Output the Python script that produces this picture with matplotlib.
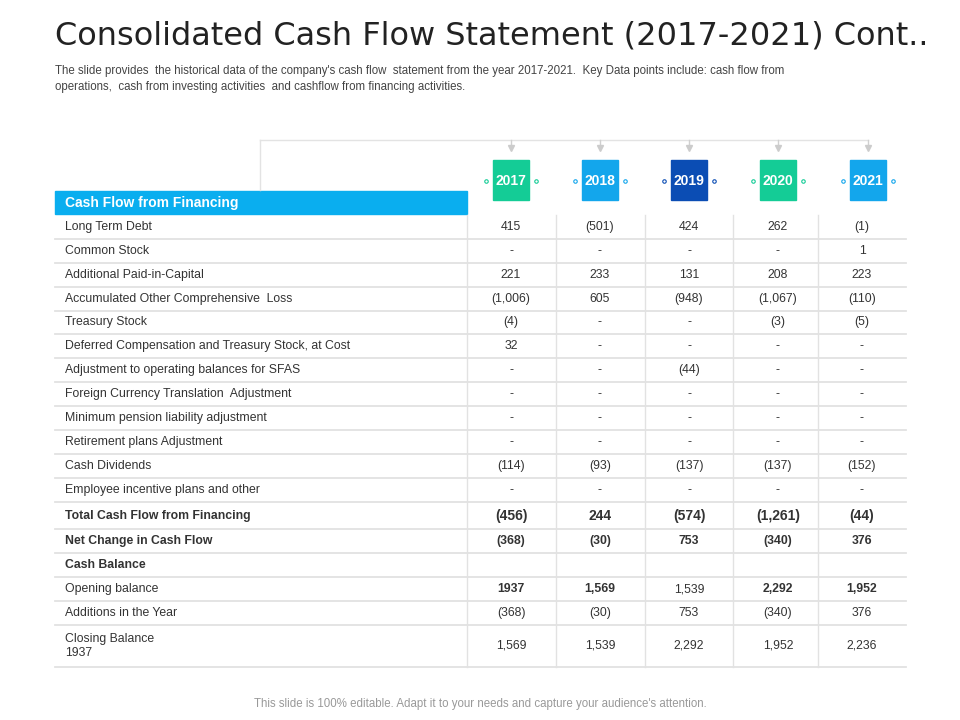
import matplotlib
matplotlib.use("Agg")
import matplotlib.pyplot as plt
from matplotlib.patches import Rectangle

years = ["2017", "2018", "2019", "2020", "2021"]
year_colors = ["#14CC96", "#13A6EC", "#0B4DB4", "#14CC96", "#13A6EC"]
row_labels = ["Long Term Debt", "Common Stock", "Additional Paid-in-Capital",
              "Accumulated Other Comprehensive  Loss", "Treasury Stock",
              "Deferred Compensation and Treasury Stock, at Cost",
              "Adjustment to operating balances for SFAS",
              "Foreign Currency Translation  Adjustment",
              "Minimum pension liability adjustment", "Retirement plans Adjustment",
              "Cash Dividends", "Employee incentive plans and other",
              "Total Cash Flow from Financing", "Net Change in Cash Flow", "Cash Balance",
              "Opening balance", "Additions in the Year", "Closing Balance\n1937"]
values = [
    ["415", "(501)", "424", "262", "(1)"],
    ["-", "-", "-", "-", "1"],
    ["221", "233", "131", "208", "223"],
    ["(1,006)", "605", "(948)", "(1,067)", "(110)"],
    ["(4)", "-", "-", "(3)", "(5)"],
    ["32", "-", "-", "-", "-"],
    ["-", "-", "(44)", "-", "-"],
    ["-", "-", "-", "-", "-"],
    ["-", "-", "-", "-", "-"],
    ["-", "-", "-", "-", "-"],
    ["(114)", "(93)", "(137)", "(137)", "(152)"],
    ["-", "-", "-", "-", "-"],
    ["(456)", "244", "(574)", "(1,261)", "(44)"],
    ["(368)", "(30)", "753", "(340)", "376"],
    ["", "", "", "", ""],
    ["1937", "1,569", "1,539", "2,292", "1,952"],
    ["(368)", "(30)", "753", "(340)", "376"],
    ["1,569", "1,539", "2,292", "1,952", "2,236"],
]
bold_rows = {12, 13, 14}

fig = plt.figure(figsize=(9.6, 7.2), dpi=100)
ax = fig.add_axes([0, 0, 1, 1])
ax.set_xlim(0, 960); ax.set_ylim(720, 0); ax.axis("off")
body = "Liberation Sans"

ax.text(55, 36, "Consolidated Cash Flow Statement (2017-2021) Cont..", fontsize=23,
        family="DejaVu Sans", color="#222222", va="center")
ax.text(55, 79, "The slide provides  the historical data of the company's cash flow  statement from the year 2017-2021.  Key Data points include: cash flow from\n"
        "operations,  cash from investing activities  and cashflow from financing activities.",
        fontsize=8.3, family=body, color="#444444", va="center", linespacing=1.45)

col_x = [511, 600, 689, 778, 862]
box_x = [511, 600, 689, 778, 868]
# connector
ax.plot([260, 868], [140, 140], color="#e3e3e3", lw=1)
ax.plot([260, 260], [140, 190], color="#e3e3e3", lw=1)
for i, (y, c) in enumerate(zip(years, year_colors)):
    bx = box_x[i]
    ax.plot([bx, bx], [140, 146], color="#d0d0d0", lw=1)
    ax.plot(bx, 148, marker="v", color="#cccccc", ms=5)
    ax.add_patch(Rectangle((bx - 18, 160), 36, 40, color=c, zorder=3))
    ax.text(bx, 181, y, color="white", fontsize=10, weight="bold", ha="center", va="center", zorder=4, family=body)
    for dx in (-25, 25):
        ax.plot(bx + dx, 181, marker="o", ms=2.5, mfc="white", mec=c, mew=0.8)

# header bar
ax.add_patch(Rectangle((55, 191), 412, 23, color="#0AAEEF"))
ax.text(65, 203, "Cash Flow from Financing", color="white", fontsize=10, weight="bold", va="center", family=body)

centers = [227, 251, 275, 299, 322, 346, 370, 394, 418, 442, 466, 490, 516, 541, 565, 589, 613, 646]
bounds = [215, 239, 263, 287, 311, 334, 358, 382, 406, 430, 454, 478, 502, 529, 553, 577, 601, 625, 667]
for b in bounds[1:]:
    ax.plot([55, 906], [b, b], color="#e2e2e2", lw=1.3)
for vx in [467, 556, 645, 733, 818]:
    ax.plot([vx, vx], [215, 667], color="#e2e2e2", lw=1)

for r, (lab, vals) in enumerate(zip(row_labels, values)):
    cy = centers[r]
    bold = r in bold_rows
    ax.text(65, cy, lab, fontsize=8.8, family=body, color="#333333", va="center",
            weight="bold" if bold else "normal", linespacing=1.3)
    for j, v in enumerate(vals):
        w = "bold" if bold or (r == 15 and j != 2) else "normal"
        fs = 10 if r == 12 else 8.8
        ax.text(col_x[j], cy, v, fontsize=fs, family=body, color="#333333",
                ha="center", va="center", weight=w)

ax.text(480, 704, "This slide is 100% editable. Adapt it to your needs and capture your audience's attention.",
        fontsize=8.3, family=body, color="#999999", ha="center", va="center")
fig.savefig("out.png", dpi=100)
